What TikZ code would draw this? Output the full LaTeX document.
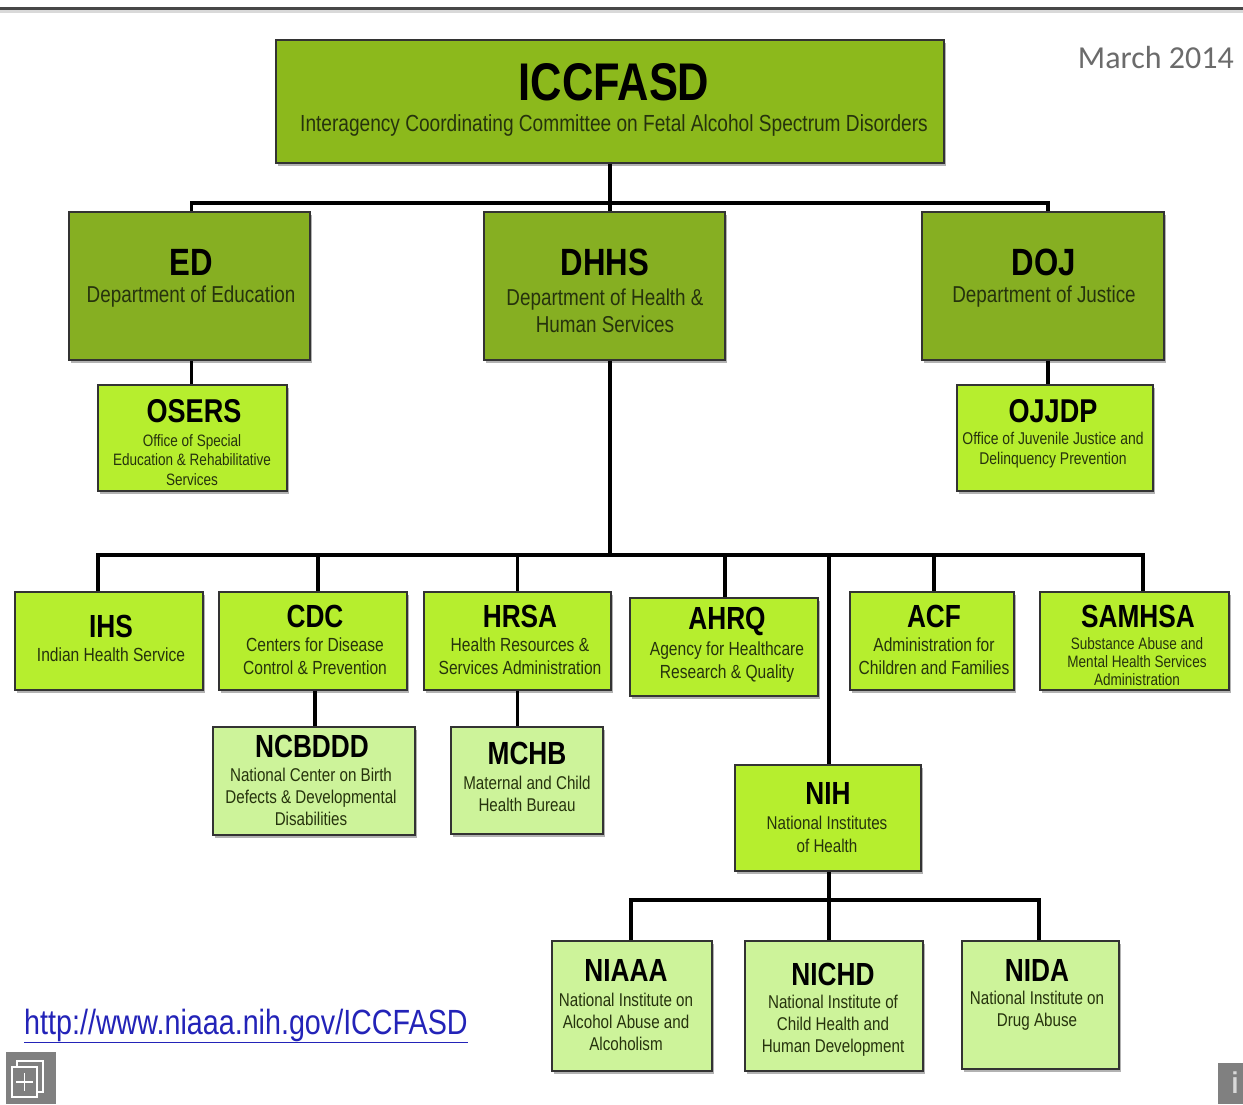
\documentclass[tikz,border=0pt]{standalone}
\usepackage{fontspec}
\setmainfont{Liberation Sans}[FakeStretch=0.82]
\newfontfamily\datefont{Carlito}
\usetikzlibrary{shadows,calc}
\definecolor{cTop}{HTML}{8CB91C}
\definecolor{cDept}{HTML}{86AF22}
\definecolor{cLime}{HTML}{B6EE2E}
\definecolor{cPale}{HTML}{CDF39A}
\definecolor{subc}{HTML}{26330D}
\definecolor{boxline}{HTML}{333333}
\definecolor{urlc}{HTML}{2323B8}
\newcommand\orgbox[6]{\node[#2,minimum width={(#5-#3)*1pt},minimum height={(#6-#4)*1pt}] (#1) at ({(#3+#5)/2},{(#4+#6)/2}) {};}
\tikzset{
  box/.style={draw=boxline, line width=1.8pt, inner sep=0pt,
    drop shadow={shadow xshift=2pt, shadow yshift=-2.5pt, opacity=0.3, fill=black}},
  topbox/.style={box, fill=cTop},
  deptbox/.style={box, fill=cDept},
  limebox/.style={box, fill=cLime},
  palebox/.style={box, fill=cPale},
  ttl/.style={inner sep=0pt, text=black, font=\bfseries\fontsize{#1}{#1}\selectfont},
  sub/.style n args={2}{inner sep=0pt, align=center, text=subc, font=\fontsize{#1}{#2}\selectfont},
  conn/.style={line width=3.3pt, black},
}
\begin{document}
\begin{tikzpicture}[x=1pt,y=-1pt]
\useasboundingbox (0,0) rectangle (1243,1104);
\fill[white] (0,0) rectangle (1243,1104);
% top rule
\draw[line width=4pt, black!15] (0,11) -- (1243,11);
\draw[line width=3pt, black!72] (0,8) -- (1243,8);

\orgbox{icc}{topbox}{276}{40}{944}{163}
\orgbox{ed}{deptbox}{69}{212}{310}{360}
\orgbox{dhhs}{deptbox}{484}{212}{725}{360}
\orgbox{doj}{deptbox}{922}{212}{1164}{360}
\orgbox{osers}{limebox}{98}{385}{287}{491}
\orgbox{ojjdp}{limebox}{957}{385}{1153}{491}
\orgbox{ihs}{limebox}{15}{592}{203}{690}
\orgbox{cdc}{limebox}{219}{592}{407}{690}
\orgbox{hrsa}{limebox}{424}{592}{611}{690}
\orgbox{ahrq}{limebox}{630}{598}{818}{696}
\orgbox{acf}{limebox}{850}{592}{1014}{690}
\orgbox{samhsa}{limebox}{1040}{592}{1229}{690}
\orgbox{ncbddd}{palebox}{213}{727}{415}{835}
\orgbox{mchb}{palebox}{451}{727}{603}{834}
\orgbox{nih}{limebox}{735}{765}{921}{871}
\orgbox{niaaa}{palebox}{552}{941}{712}{1071}
\orgbox{nichd}{palebox}{745}{941}{923}{1071}
\orgbox{nida}{palebox}{962}{941}{1119}{1069}

\coordinate (j1) at (610,203);
\coordinate (bus) at (610,555);
\coordinate (nbus) at (829,900);

\draw[conn] (icc.south) -- (icc.south |- dhhs.north);
\draw[conn] ([xshift=2pt]ed.north) |- (j1) -| ([xshift=5pt]doj.north);
\draw[conn] ([xshift=2pt]ed.south) -- ([xshift=2pt]ed.south |- osers.north);
\draw[conn] ([xshift=5pt]doj.south) -- ([xshift=5pt]doj.south |- ojjdp.north);
\draw[conn] (icc.south |- dhhs.south) -- (bus);
\draw[conn] ([xshift=-11pt]ihs.north) |- (bus) -| ([xshift=8.5pt]samhsa.north);
\draw[conn] ([xshift=5pt]cdc.north) -- ([xshift=5pt]cdc.north |- bus);
\draw[conn] (hrsa.north) -- (hrsa.north |- bus);
\draw[conn] ([xshift=1pt]ahrq.north) -- ([xshift=1pt]ahrq.north |- bus);
\draw[conn] ([xshift=2pt]acf.north) -- ([xshift=2pt]acf.north |- bus);
\draw[conn] ([xshift=1pt]nih.north |- bus) -- ([xshift=1pt]nih.north);
\draw[conn] ([xshift=2pt]cdc.south) -- ([xshift=2pt]cdc.south |- ncbddd.north);
\draw[conn] (hrsa.south) -- (hrsa.south |- mchb.north);
\draw[conn] ([xshift=1pt]nih.south) -- (nbus);
\draw[conn] ([xshift=-1pt]niaaa.north) |- (nbus) -| ([xshift=-1.5pt]nida.north);
\draw[conn] (nbus) -- (nbus |- nichd.north);

% texts
\node[ttl=53] (iccT) at (614,82) {ICCFASD};
\node[sub={23.3}{26}] (iccS) at (614,125) {Interagency Coordinating Committee on Fetal Alcohol Spectrum Disorders};

\node[ttl=38] (edT) at (191,262) {ED};
\node[sub={23}{27}] (edS) at (191,297) {Department of Education};
\node[ttl=38] (dhhsT) at (605,262) {DHHS};
\node[sub={23}{27}] (dhhsS) at (605,310.5) {Department of Health \&\\Human Services};
\node[ttl=38] (dojT) at (1044,262) {DOJ};
\node[sub={23}{27}] (dojS) at (1044,297) {Department of Justice};

\node[ttl=33] (osersT) at (194,411) {OSERS};
\node[sub={16.5}{19.5}] (osersS) at (192,460) {Office of Special\\Education \& Rehabilitative\\Services};
\node[ttl=33] (ojjdpT) at (1053,411) {OJJDP};
\node[sub={17}{20}] (ojjdpS) at (1053,450) {Office of Juvenile Justice and\\Delinquency Prevention};

\node[ttl=32] (ihsT) at (111,626) {IHS};
\node[sub={19}{23}] (ihsS) at (111,655) {Indian Health Service};
\node[ttl=32] (cdcT) at (315,616) {CDC};
\node[sub={19}{23}] (cdcS) at (315,656.5) {Centers for Disease\\Control \& Prevention};
\node[ttl=32] (hrsaT) at (520,616) {HRSA};
\node[sub={19}{23}] (hrsaS) at (520,656.5) {Health Resources \&\\Services Administration};
\node[ttl=32] (ahrqT) at (727,621) {AHRQ};
\node[sub={19}{23}] (ahrqS) at (727,662.5) {Agency for Healthcare\\Research \& Quality};
\node[ttl=32] (acfT) at (934,616) {ACF};
\node[sub={19}{23}] (acfS) at (934,656.5) {Administration for\\Children and Families};
\node[ttl=32] (samhsaT) at (1138,616) {SAMHSA};
\node[sub={16.5}{18}] (samhsaS) at (1137,662) {Substance Abuse and\\Mental Health Services\\Administration};

\node[ttl=32] (ncbdddT) at (312,746) {NCBDDD};
\node[sub={18.5}{22}] (ncbdddS) at (311,797) {National Center on Birth\\Defects \& Developmental\\Disabilities};
\node[ttl=32] (mchbT) at (527,753) {MCHB};
\node[sub={18.5}{22}] (mchbS) at (527,794) {Maternal and Child\\Health Bureau};
\node[ttl=32] (nihT) at (828,793) {NIH};
\node[sub={18.5}{22.5}] (nihS) at (827,834.5) {National Institutes\\of Health};

\node[ttl=32] (niaaaT) at (626,970) {NIAAA};
\node[sub={18.5}{22}] (niaaaS) at (626,1022) {National Institute on\\Alcohol Abuse and\\Alcoholism};
\node[ttl=32] (nichdT) at (833,974) {NICHD};
\node[sub={18.5}{22}] (nichdS) at (833,1026) {National Institute of\\Child Health and\\Human Development};
\node[ttl=32] (nidaT) at (1037,970) {NIDA};
\node[sub={18.5}{22}] (nidaS) at (1037,1011) {National Institute on\\Drug Abuse};

% date
\node[inner sep=0pt, anchor=east, text=black!58, font=\datefont\fontsize{32}{32}\selectfont] (date) at (1234,58) {March 2014};

% url
\node[inner sep=0pt, anchor=west, text=urlc, font=\fontsize{35}{35}\selectfont] (url) at (24,1025) {http://www.niaaa.nih.gov/ICCFASD};
\draw[urlc, line width=1.6pt] (url.south west) ++(0,1) -- ([yshift=-1pt]url.south east);

% corner icons
\fill[black!50] (6,1052) rectangle (56,1104);
\draw[white, line width=1.5pt] (17,1067) -- (17,1061) -- (43,1061) -- (43,1092) -- (37,1092);
\draw[white, line width=1.5pt] (12,1067) rectangle (37,1097);
\draw[white, line width=1.5pt] (24.5,1073) -- (24.5,1091) (16,1082) -- (33,1082);
\fill[black!50] (1218,1063) rectangle (1243,1104);
\node[inner sep=0pt, text=white!85!black, font=\bfseries\fontsize{30}{30}\selectfont, anchor=north] (info) at (1235,1072) {i};
\end{tikzpicture}
\end{document}
